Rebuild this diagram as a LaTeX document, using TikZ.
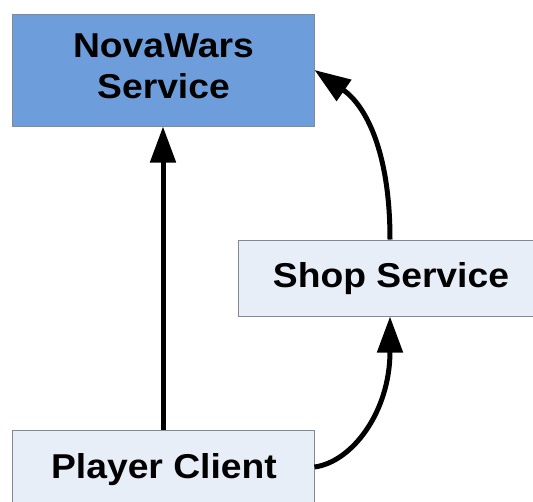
\documentclass[tikz,border=0pt]{standalone}
\usepackage{fontspec}
\setmainfont{Liberation Sans}[FakeStretch=1.08]
\usetikzlibrary{arrows.meta}
\definecolor{novafill}{HTML}{6D9EDB}
\definecolor{lightfill}{HTML}{E8EEF8}
\definecolor{boxline}{HTML}{7F8A99}
\tikzset{
  boxstyle/.style={draw=boxline, line width=1pt, inner sep=0pt},
  labelstyle/.style={font=\fontsize{34.5}{41}\selectfont\bfseries, anchor=base, inner sep=0pt},
  arr/.style={line width=5pt, -{Triangle[length=36pt,width=25pt]}},
}
\begin{document}
\begin{tikzpicture}[x=1pt,y=-1pt]
\path[use as bounding box] (0,0) rectangle (533,501);
\clip (0,0) rectangle (533,501);
% boxes
\node[boxstyle, fill=novafill, minimum width=302pt, minimum height=112pt] (nova) at (163,70) {};
\node[boxstyle, fill=lightfill, minimum width=304pt, minimum height=76pt] (shop) at (390,278) {};
\node[boxstyle, fill=lightfill, minimum width=302pt, minimum height=74pt] (player) at (163,467) {};
% labels
\node[labelstyle] (novaA) at (163.5,57) {NovaWars};
\node[labelstyle] (novaB) at (163.5,98) {Service};
\node[labelstyle] (shopT) at (391,287.5) {Shop Service};
\node[labelstyle] (playerT) at (164,478.5) {Player Client};
% connectors
\draw[arr] (player.north) -- (nova.south);
\draw[arr] (player.east) .. controls (352,462) and (390,412) .. (shop.south);
\draw[arr] (shop.north) .. controls (390,150) and (365,105) .. (nova.east);
\end{tikzpicture}
\end{document}
